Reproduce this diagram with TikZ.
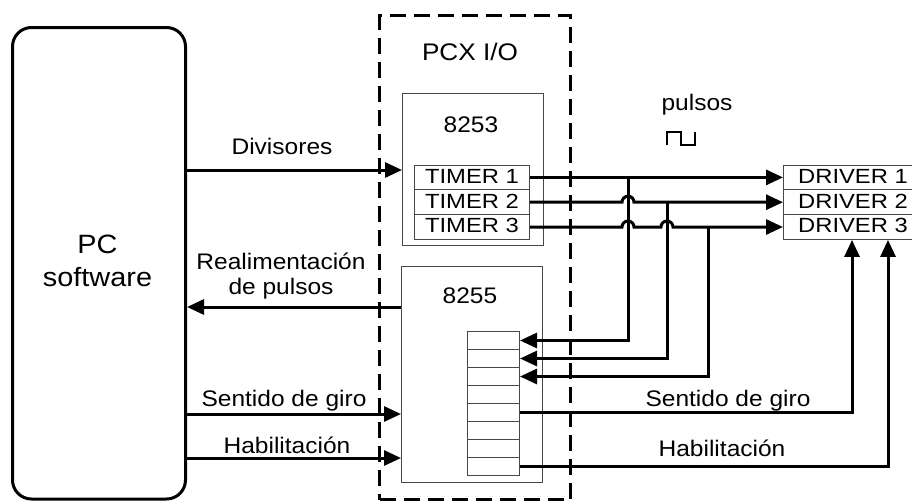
\documentclass[tikz,border=0pt]{standalone}
\usepackage{fontspec}
\setmainfont[FakeStretch=1.09]{Liberation Sans}
\newfontfamily\widefont[FakeStretch=1.16]{Liberation Sans}
\usetikzlibrary{arrows.meta}
\begin{document}
\begin{tikzpicture}[x=1pt,y=-1pt,
  conn/.style={line width=3pt},
  arr/.style={conn,-{Triangle[length=17pt,width=15pt]}},
  thinbox/.style={draw=black!72,line width=1pt,inner sep=0pt,anchor=north west},
  rowbox/.style={thinbox,font=\widefont\fontsize{20.5}{22}\selectfont,text height=14.7pt,text depth=3pt},
  regrow/.style={thinbox,minimum width=52pt,minimum height=18pt},
  lbl/.style={font=\fontsize{22.5}{25}\selectfont,inner sep=0pt,anchor=base},
  biglbl/.style={font=\fontsize{26.5}{30}\selectfont,inner sep=0pt,anchor=base},
  dashbox/.style={draw,line width=3pt,dash pattern=on 16pt off 8pt,inner sep=0pt,anchor=north west},
  hop/.style={start angle=180,end angle=0,radius=6pt}]
\useasboundingbox (0,0) rectangle (912,501);

% PC block
\node[draw,line width=3pt,rounded corners=19pt,minimum width=173pt,minimum height=471.5pt,anchor=north west] (pc) at (11,26) {};
\node[biglbl] (pcl1) at (97.5,253) {PC};
\node[biglbl] (pcl2) at (97.5,286) {software};

% PCX I/O dashed frame
\node[dashbox,minimum width=191pt,minimum height=484pt] (pcx) at (378,14) {};
\node[lbl,font=\fontsize{24}{26}\selectfont] (pcxl) at (470,60) {PCX I/O};

% 8253
\node[thinbox,minimum width=141pt,minimum height=152pt] (b8253) at (402,93) {};
\node[lbl] (l8253) at (471,132) {8253};
\node[rowbox,minimum width=115pt,minimum height=24.8pt] (t1) at (414,164.5) {TIMER 1};
\node[rowbox,minimum width=115pt,minimum height=24.8pt] (t2) at (414,189.3) {TIMER 2};
\node[rowbox,minimum width=115pt,minimum height=24.8pt] (t3) at (414,214.1) {TIMER 3};

% 8255
\node[thinbox,minimum width=141pt,minimum height=216pt] (b8255) at (401,266) {};
\node[lbl] (l8255) at (470,303) {8255};
\node[regrow] (r1) at (467,331) {};
\node[regrow] (r2) at (467,349) {};
\node[regrow] (r3) at (467,367) {};
\node[regrow] (r4) at (467,385) {};
\node[regrow] (r5) at (467,403) {};
\node[regrow] (r6) at (467,421) {};
\node[regrow] (r7) at (467,439) {};
\node[regrow] (r8) at (467,457) {};

% Drivers
\node[rowbox,minimum width=139pt,minimum height=24.8pt] (d1) at (783,164.5) {DRIVER 1};
\node[rowbox,minimum width=139pt,minimum height=24.8pt] (d2) at (783,189.3) {DRIVER 2};
\node[rowbox,minimum width=139pt,minimum height=24.8pt] (d3) at (783,214.1) {DRIVER 3};

% helper coordinates
\coordinate (yDiv) at (0,170);
\coordinate (yReal) at (0,307);
\coordinate (ySen) at (0,414);
\coordinate (yHab) at (0,458);
\coordinate (v1) at (628,0);
\coordinate (v2) at (667,0);
\coordinate (v3) at (708,0);
\coordinate (sx) at (852,0);
\coordinate (hx) at (888,0);

% left connectors
\draw[arr] (pc.east |- yDiv) -- (b8253.west |- yDiv);
\draw[arr] (b8255.west |- yReal) -- (pc.east |- yReal);
\draw[arr] (pc.east |- ySen) -- (b8255.west |- ySen);
\draw[arr] (pc.east |- yHab) -- (b8255.west |- yHab);
\node[lbl] (lDiv) at (282,154) {Divisores};
\node[lbl] (lRe1) at (281,269) {Realimentación};
\node[lbl] (lRe2) at (281,294) {de pulsos};
\node[lbl] (lSenL) at (284,406) {Sentido de giro};
\node[lbl] (lHabL) at (287,453) {Habilitación};

% timer -> driver lines with hops
\draw[arr] (t1.east) -- (d1.west);
\draw[arr] (t2.east) -- ([xshift=-6pt]t2.east -| v1) arc[hop] -- (d2.west);
\draw[arr] (t3.east) -- ([xshift=-6pt]t3.east -| v1) arc[hop]
  -- ([xshift=-6pt]t3.east -| v2) arc[hop] -- (d3.west);

% feedback branches
\draw[arr] (t1.east -| v1) -- (v1 |- r1.east) -- (r1.east);
\draw[arr] (t2.east -| v2) -- (v2 |- r2.east) -- (r2.east);
\draw[arr] (t3.east -| v3) -- (v3 |- r3.east) -- (r3.east);

% direction / enable to drivers
\draw[arr] (r5.east) -- (r5.east -| sx) -- (sx |- d3.south);
\draw[arr] (r8.east) -- (r8.east -| hx) -- (hx |- d3.south);
\node[lbl] (lSenR) at (728,406) {Sentido de giro};
\node[lbl] (lHabR) at (722,456) {Habilitación};

% pulses label and symbol
\node[lbl] (lPul) at (697,110) {pulsos};
\draw[line width=1.6pt] (667,145) -- (667,132) -- (681,132) -- (681,145) -- (695,145) -- (695,132);
\end{tikzpicture}
\end{document}
